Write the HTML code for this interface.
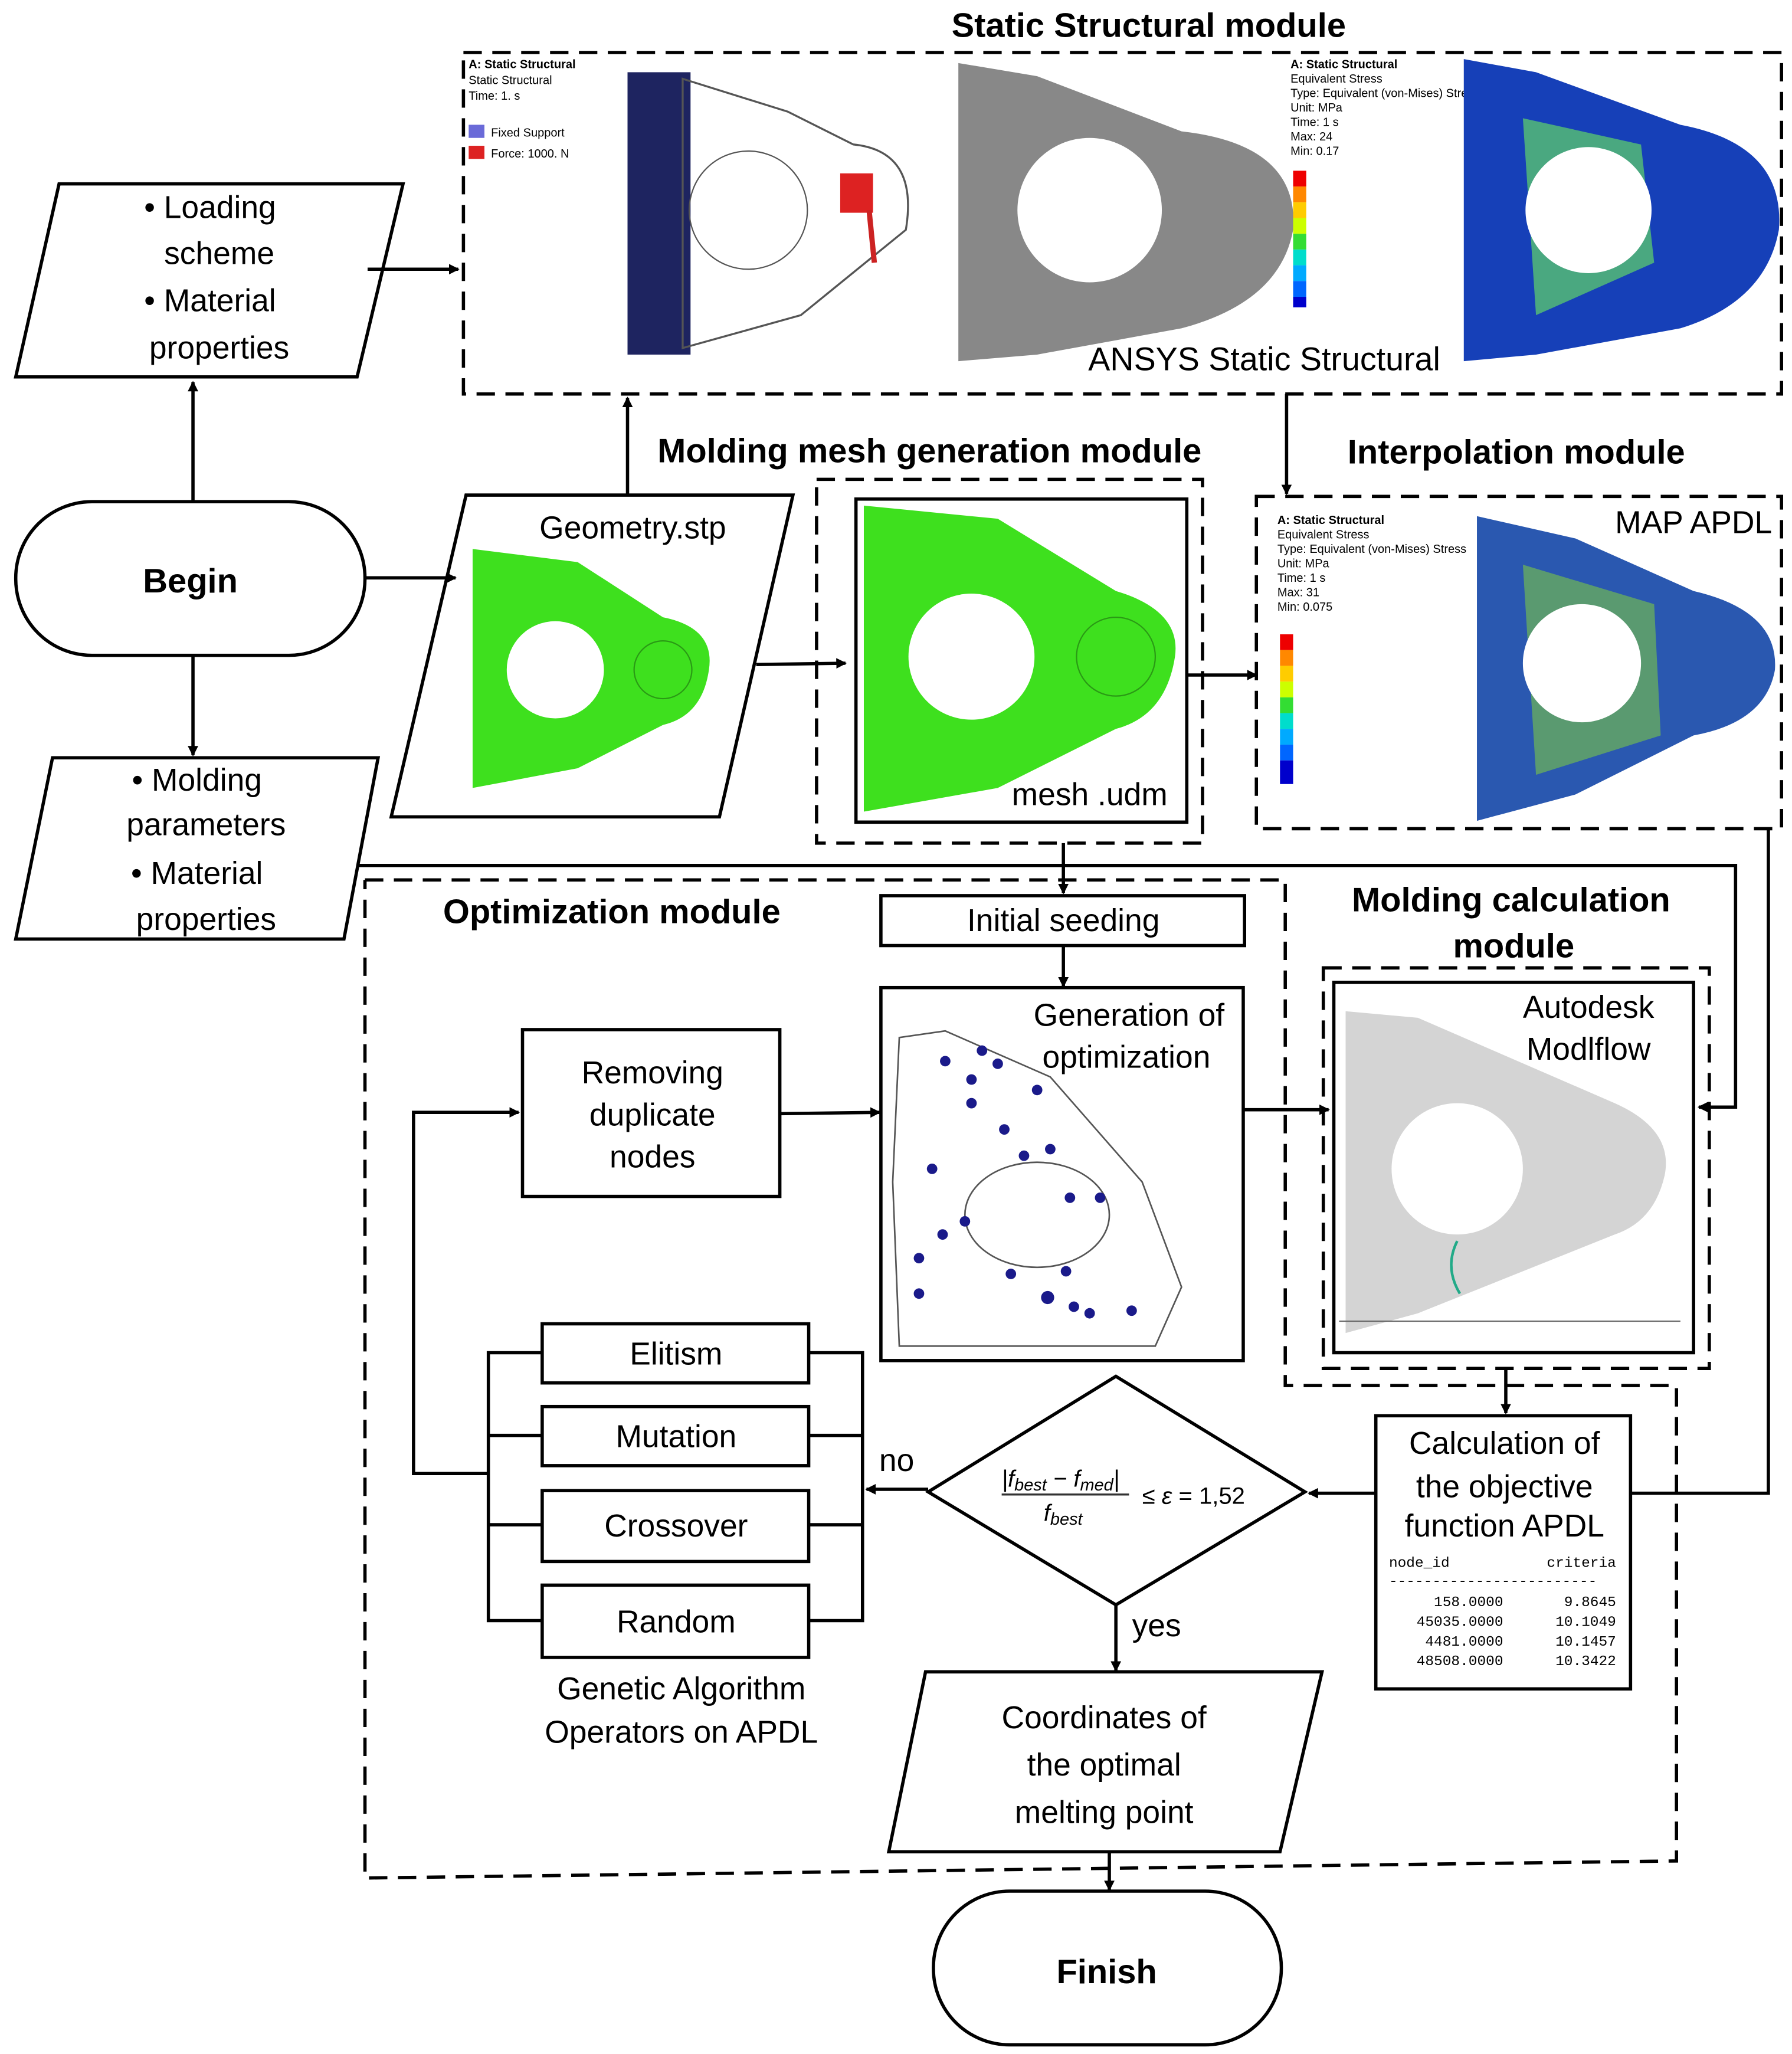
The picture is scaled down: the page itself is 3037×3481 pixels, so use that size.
<!DOCTYPE html>
<html><head><meta charset="utf-8"><style>
html,body{margin:0;padding:0;background:#fff}
svg{display:block}
text{font-family:"Liberation Sans",sans-serif;fill:#000}
.t{font-size:24px;text-anchor:middle}
.b{font-size:26px;font-weight:bold;text-anchor:middle}
.s{stroke:#000;stroke-width:2.5;fill:none}
.d{stroke:#000;stroke-width:2.5;fill:none;stroke-dasharray:14 8}
.m{font-family:"Liberation Mono",monospace;font-size:11px}
.sm{font-size:9px}
</style></head><body>
<svg width="3037" height="3481" viewBox="0 0 1365 1564" preserveAspectRatio="none" xmlns="http://www.w3.org/2000/svg">
<defs><marker id="a" markerWidth="8" markerHeight="8" refX="7" refY="4" orient="auto" markerUnits="userSpaceOnUse"><path d="M0,0 L8,4 L0,8 z" fill="#000"/></marker></defs>

<!-- Static structural -->
<text class="b" x="875" y="28">Static Structural module</text>
<rect class="d" x="353" y="40" width="1004" height="260"/>
<text x="357" y="52" class="sm" font-weight="bold">A: Static Structural</text>
<text x="357" y="64" class="sm">Static Structural</text>
<text x="357" y="76" class="sm">Time: 1. s</text>
<rect x="357" y="95" width="12" height="10" fill="#6a6ad8"/><text x="374" y="104" class="sm">Fixed Support</text>
<rect x="357" y="111" width="12" height="10" fill="#d22"/><text x="374" y="120" class="sm">Force: 1000. N</text>
<rect x="478" y="55" width="48" height="215" fill="#1e2460"/>
<path d="M520,60 L600,85 L650,110 Q700,115 690,175 L610,240 L520,265 Z" fill="none" stroke="#555" stroke-width="1.5"/>
<circle cx="570" cy="160" r="45" fill="none" stroke="#555"/>
<rect x="640" y="132" width="25" height="30" fill="#d22"/><line x1="662" y1="160" x2="666" y2="200" stroke="#c22" stroke-width="4"/>
<path d="M730,48 L790,58 L900,100 Q990,110 985,175 Q975,230 900,250 L790,270 L730,275 Z" fill="#888"/>
<circle cx="830" cy="160" r="55" fill="#fff"/>
<text x="983" y="52" class="sm" font-weight="bold">A: Static Structural</text>
<text x="983" y="63" class="sm">Equivalent Stress</text>
<text x="983" y="74" class="sm">Type: Equivalent (von-Mises) Stress</text>
<text x="983" y="85" class="sm">Unit: MPa</text><text x="983" y="96" class="sm">Time: 1 s</text>
<text x="983" y="107" class="sm">Max: 24</text><text x="983" y="118" class="sm">Min: 0.17</text>
<rect x="985" y="130" width="10" height="12" fill="#e00"/><rect x="985" y="142" width="10" height="12" fill="#f80"/><rect x="985" y="154" width="10" height="12" fill="#fc0"/><rect x="985" y="166" width="10" height="12" fill="#cf0"/><rect x="985" y="178" width="10" height="12" fill="#3d3"/><rect x="985" y="190" width="10" height="12" fill="#0dc"/><rect x="985" y="202" width="10" height="12" fill="#0af"/><rect x="985" y="214" width="10" height="12" fill="#06f"/><rect x="985" y="226" width="10" height="8" fill="#00c"/>
<path d="M1115,45 L1170,55 L1280,95 Q1360,110 1355,175 Q1345,230 1280,250 L1170,270 L1115,275 Z" fill="#1640b8"/>
<path d="M1160,90 L1250,110 L1260,200 L1170,240 Z" fill="#4aa880"/>
<circle cx="1210" cy="160" r="48" fill="#fff"/>
<text x="963" y="282" font-size="25" text-anchor="middle">ANSYS Static Structural</text>

<!-- inputs -->
<polygon class="s" points="45,140 307,140 272,287 12,287"/>
<text class="t" x="160" y="166">• Loading</text><text class="t" x="167" y="201">scheme</text>
<text class="t" x="160" y="237">• Material</text><text class="t" x="167" y="273">properties</text>
<line class="s" x1="280" y1="205" x2="349" y2="205" marker-end="url(#a)"/>
<rect class="s" x="12" y="382" width="266" height="117" rx="58"/>
<text class="b" x="145" y="451" font-size="30">Begin</text>
<line class="s" x1="147" y1="382" x2="147" y2="291" marker-end="url(#a)"/>
<line class="s" x1="147" y1="499" x2="147" y2="575" marker-end="url(#a)"/>
<polygon class="s" points="40,577 288,577 262,715 12,715"/>
<text class="t" x="150" y="602">• Molding</text><text class="t" x="157" y="636">parameters</text>
<text class="t" x="150" y="673">• Material</text><text class="t" x="157" y="708">properties</text>
<line class="s" x1="278" y1="440" x2="347" y2="440" marker-end="url(#a)"/>

<!-- geometry -->
<polygon class="s" points="355,377 604,377 548,622 298,622"/>
<text class="t" x="482" y="410">Geometry.stp</text>
<path d="M360,418 L440,428 L505,470 Q545,478 540,510 Q535,545 505,552 L440,585 L360,600 Z" fill="#3ee01e"/>
<circle cx="423" cy="510" r="37" fill="#fff"/><circle cx="505" cy="510" r="22" fill="none" stroke="#2a9a15"/>
<line class="s" x1="478" y1="377" x2="478" y2="303" marker-end="url(#a)"/>
<line class="s" x1="576" y1="506" x2="644" y2="505" marker-end="url(#a)"/>

<!-- mesh -->
<text class="b" x="708" y="352">Molding mesh generation module</text>
<rect class="d" x="622" y="365" width="294" height="277"/>
<rect class="s" x="652" y="380" width="252" height="246"/>
<path d="M658,385 L760,395 L850,450 Q900,465 895,500 Q888,545 850,555 L760,600 L658,618 Z" fill="#3ee01e"/>
<circle cx="740" cy="500" r="48" fill="#fff"/><circle cx="850" cy="500" r="30" fill="none" stroke="#2a9a15"/>
<text class="t" x="830" y="613">mesh .udm</text>
<line class="s" x1="905" y1="514" x2="957" y2="514" marker-end="url(#a)"/>

<!-- interpolation -->
<text class="b" x="1155" y="353">Interpolation module</text>
<line class="s" x1="980" y1="300" x2="980" y2="376" marker-end="url(#a)"/>
<rect class="d" x="957" y="378" width="400" height="253"/>
<text class="t" x="1290" y="406">MAP APDL</text>
<text x="973" y="399" class="sm" font-weight="bold">A: Static Structural</text>
<text x="973" y="410" class="sm">Equivalent Stress</text><text x="973" y="421" class="sm">Type: Equivalent (von-Mises) Stress</text>
<text x="973" y="432" class="sm">Unit: MPa</text><text x="973" y="443" class="sm">Time: 1 s</text>
<text x="973" y="454" class="sm">Max: 31</text><text x="973" y="465" class="sm">Min: 0.075</text>
<rect x="975" y="483" width="10" height="12" fill="#e00"/><rect x="975" y="495" width="10" height="12" fill="#f80"/><rect x="975" y="507" width="10" height="12" fill="#fc0"/><rect x="975" y="519" width="10" height="12" fill="#cf0"/><rect x="975" y="531" width="10" height="12" fill="#3d3"/><rect x="975" y="543" width="10" height="12" fill="#0dc"/><rect x="975" y="555" width="10" height="12" fill="#0af"/><rect x="975" y="567" width="10" height="12" fill="#06f"/><rect x="975" y="579" width="10" height="18" fill="#00c"/>
<path d="M1125,393 L1200,410 L1290,450 Q1355,465 1352,510 Q1345,550 1290,560 L1200,605 L1125,625 Z" fill="#2a58b0"/>
<path d="M1160,430 L1260,460 L1265,560 L1170,590 Z" fill="#5a9a70"/>
<circle cx="1205" cy="505" r="45" fill="#fff"/>

<!-- connectors into optimization -->
<line class="s" x1="810" y1="642" x2="810" y2="680" marker-end="url(#a)"/>
<polyline class="s" points="272,659 1322,659 1322,843 1294,843" marker-end="url(#a)"/>

<!-- optimization box -->
<polyline class="d" points="278,670 979,670 979,1055 1277,1055 1277,1417 278,1430 278,670"/>
<text class="b" x="466" y="703">Optimization module</text>
<rect class="s" x="671" y="682" width="277" height="38"/>
<text class="t" x="810" y="709">Initial seeding</text>
<line class="s" x1="810" y1="720" x2="810" y2="751" marker-end="url(#a)"/>
<rect class="s" x="671" y="752" width="276" height="284"/>
<text class="t" x="860" y="781">Generation of</text><text class="t" x="858" y="813">optimization</text>
<path d="M685,790 L720,785 L800,820 L870,900 L900,980 L880,1025 L685,1025 L680,900 Z" fill="none" stroke="#555" stroke-width="1.2"/>
<ellipse cx="790" cy="925" rx="55" ry="40" fill="none" stroke="#555" stroke-width="1.2"/>
<g fill="#1a1a8a">
<circle cx="720" cy="808" r="4"/><circle cx="748" cy="800" r="4"/><circle cx="760" cy="810" r="4"/><circle cx="790" cy="830" r="4"/><circle cx="740" cy="840" r="4"/><circle cx="765" cy="860" r="4"/><circle cx="780" cy="880" r="4"/><circle cx="710" cy="890" r="4"/><circle cx="735" cy="930" r="4"/><circle cx="718" cy="940" r="4"/><circle cx="815" cy="912" r="4"/><circle cx="838" cy="912" r="4"/><circle cx="700" cy="958" r="4"/><circle cx="770" cy="970" r="4"/><circle cx="812" cy="968" r="4"/><circle cx="798" cy="988" r="5"/><circle cx="818" cy="995" r="4"/><circle cx="830" cy="1000" r="4"/><circle cx="862" cy="998" r="4"/><circle cx="700" cy="985" r="4"/><circle cx="800" cy="875" r="4"/><circle cx="740" cy="822" r="4"/>
</g>

<!-- molding calculation -->
<text class="b" x="1151" y="694">Molding calculation</text><text class="b" x="1153" y="729">module</text>
<rect class="d" x="1008" y="737" width="294" height="305"/>
<rect class="s" x="1016" y="748" width="274" height="282"/>
<path d="M1025,770 L1080,775 L1230,840 Q1275,860 1268,895 Q1260,930 1230,940 L1080,1000 L1025,1015 Z" fill="#d4d4d4"/>
<circle cx="1110" cy="890" r="50" fill="#fff"/>
<line x1="1020" y1="1006" x2="1280" y2="1006" stroke="#666"/>
<path d="M1110,945 Q1100,965 1112,985" stroke="#2a8" fill="none" stroke-width="2"/>
<text class="t" x="1210" y="775">Autodesk</text><text class="t" x="1210" y="807">Modlflow</text>
<line class="s" x1="947" y1="845" x2="1012" y2="845" marker-end="url(#a)"/>

<!-- removing -->
<rect class="s" x="398" y="784" width="196" height="127"/>
<text class="t" x="497" y="825">Removing</text><text class="t" x="497" y="857">duplicate</text><text class="t" x="497" y="889">nodes</text>
<line class="s" x1="594" y1="848" x2="670" y2="847" marker-end="url(#a)"/>
<polyline class="s" points="372,1122 315,1122 315,847 395,847" marker-end="url(#a)"/>

<!-- GA operators -->
<rect class="s" x="413" y="1008" width="203" height="45"/><text class="t" x="515" y="1039">Elitism</text>
<rect class="s" x="413" y="1071" width="203" height="45"/><text class="t" x="515" y="1102">Mutation</text>
<rect class="s" x="413" y="1135" width="203" height="54"/><text class="t" x="515" y="1170">Crossover</text>
<rect class="s" x="413" y="1207" width="203" height="55"/><text class="t" x="515" y="1243">Random</text>
<polyline class="s" points="413,1030 372,1030 372,1234 413,1234"/>
<line class="s" x1="372" y1="1093" x2="413" y2="1093"/><line class="s" x1="372" y1="1161" x2="413" y2="1161"/>
<polyline class="s" points="616,1030 657,1030 657,1234 616,1234"/>
<line class="s" x1="616" y1="1093" x2="657" y2="1093"/><line class="s" x1="616" y1="1161" x2="657" y2="1161"/>
<line class="s" x1="707" y1="1134" x2="660" y2="1134" marker-end="url(#a)"/>
<text class="t" x="683" y="1120">no</text>
<text class="t" x="519" y="1294">Genetic Algorithm</text><text class="t" x="519" y="1327">Operators on APDL</text>

<!-- diamond -->
<polygon class="s" points="850,1048 994,1136 850,1222 707,1136"/>
<text x="763" y="1132" font-family="Liberation Serif,serif" font-style="italic" font-size="18">|f<tspan font-size="13" dy="3">best</tspan><tspan dy="-3"> − f</tspan><tspan font-size="13" dy="3">med</tspan><tspan dy="-3">|</tspan></text>
<line x1="763" y1="1138" x2="860" y2="1138" stroke="#333" stroke-width="1.5"/>
<text x="795" y="1158" font-family="Liberation Serif,serif" font-style="italic" font-size="18">f<tspan font-size="13" dy="3">best</tspan></text>
<text x="870" y="1145" font-family="Liberation Serif,serif" font-size="18">≤ <tspan font-style="italic">ε</tspan> = 1,52</text>
<line class="s" x1="850" y1="1222" x2="850" y2="1272" marker-end="url(#a)"/>
<text class="t" x="881" y="1246">yes</text>

<!-- calc -->
<line class="s" x1="1147" y1="1042" x2="1147" y2="1076" marker-end="url(#a)"/>
<rect class="s" x="1048" y="1078" width="194" height="208"/>
<text class="t" x="1146" y="1107">Calculation of</text><text class="t" x="1146" y="1140">the objective</text><text class="t" x="1146" y="1170">function APDL</text>
<text class="m" x="1058" y="1193">node_id</text><text class="m" x="1231" y="1193" text-anchor="end">criteria</text>
<text class="m" x="1058" y="1207">------------------------</text>
<text class="m" x="1145" y="1223" text-anchor="end">158.0000</text><text class="m" x="1231" y="1223" text-anchor="end">9.8645</text>
<text class="m" x="1145" y="1238" text-anchor="end">45035.0000</text><text class="m" x="1231" y="1238" text-anchor="end">10.1049</text>
<text class="m" x="1145" y="1253" text-anchor="end">4481.0000</text><text class="m" x="1231" y="1253" text-anchor="end">10.1457</text>
<text class="m" x="1145" y="1268" text-anchor="end">48508.0000</text><text class="m" x="1231" y="1268" text-anchor="end">10.3422</text>
<line class="s" x1="1048" y1="1137" x2="997" y2="1137" marker-end="url(#a)"/>
<polyline class="s" points="1242,1137 1347,1137 1347,631"/>

<!-- coordinates -->
<polygon class="s" points="705,1273 1007,1273 975,1410 677,1410"/>
<text class="t" x="841" y="1316">Coordinates of</text><text class="t" x="841" y="1352">the optimal</text><text class="t" x="841" y="1388">melting point</text>
<line class="s" x1="845" y1="1410" x2="845" y2="1439" marker-end="url(#a)"/>
<rect class="s" x="711" y="1440" width="265" height="117" rx="58"/>
<text class="b" x="843" y="1510" font-size="30">Finish</text>
</svg>
</body></html>
